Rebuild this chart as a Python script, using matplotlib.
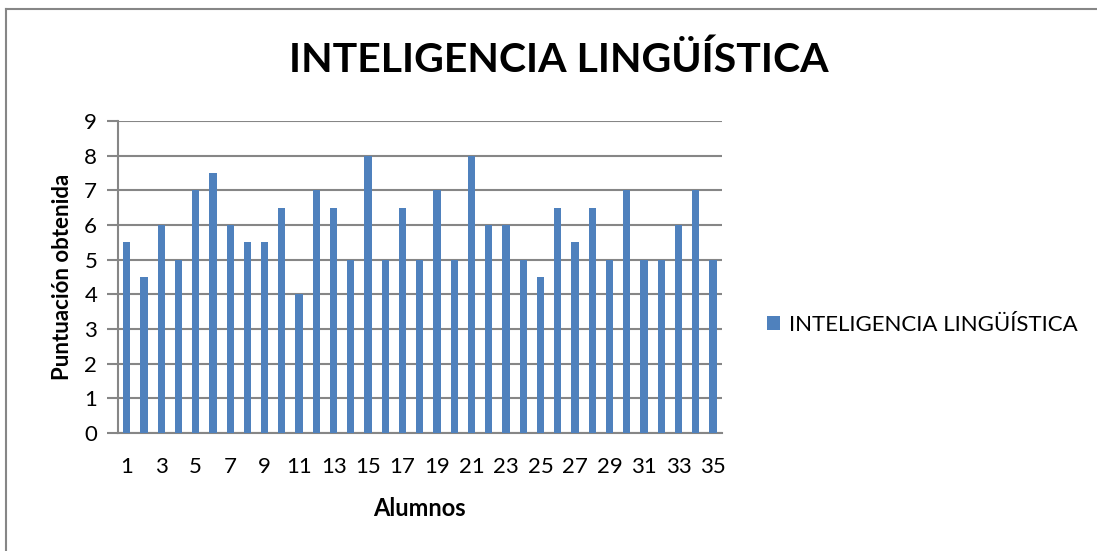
import matplotlib.pyplot as plt
from matplotlib.lines import Line2D
from matplotlib.patches import Patch

# === Data ===
alumnos = list(range(1, 36))
puntuacion = [5.5, 4.5, 6, 5, 7, 7.5, 6, 5.5, 5.5, 6.5,
              4, 7, 6.5, 5, 8, 5, 6.5, 5, 7, 5,
              8, 6, 6, 5, 4.5, 6.5, 5.5, 6.5, 5, 7,
              5, 5, 6, 7, 5]
serie = "INTELIGENCIA LINGÜÍSTICA"

plt.rcParams["font.family"] = ["Lato", "DejaVu Sans"]
bar_color = "#4F81BD"
grid_color = "#868686"

fig = plt.figure(figsize=(10.97, 5.51), dpi=100)
ax = fig.add_axes([0.1076, 0.2142, 0.5502, 0.5662])

x = list(range(len(alumnos)))
ax.bar(x, puntuacion, width=0.42, color=bar_color, zorder=3)

ax.set_xlim(-0.5, len(alumnos) - 0.5)
ax.set_ylim(0, 9)
ax.set_yticks(range(0, 10))
ax.set_xticks(x[::2])
ax.set_xticklabels([str(a) for a in alumnos[::2]])
ax.tick_params(axis="x", length=0, labelsize=16, pad=17)
ax.tick_params(axis="y", length=8, width=1.5, color=grid_color, labelsize=16, pad=7)
ax.yaxis.grid(True, color=grid_color, linewidth=1.5, zorder=0)

for side in ["top", "right"]:
    ax.spines[side].set_visible(False)
for side in ["left", "bottom"]:
    ax.spines[side].set_color(grid_color)
    ax.spines[side].set_linewidth(1.5)

ax.set_xlabel("Alumnos", fontsize=17, fontweight="bold", labelpad=15)
ax.set_ylabel("Puntuación obtenida", fontsize=16, fontweight="bold", labelpad=8)

fig.text(0.509, 0.89, serie, ha="center", va="center", fontsize=29.5, fontweight="bold")

# legend
handle = Patch(facecolor=bar_color, edgecolor="none")
fig.legend([handle], [serie], loc="center left", bbox_to_anchor=(0.681, 0.41),
           frameon=False, fontsize=16, handlelength=0.6, handleheight=0.6,
           handletextpad=0.4)

# chart border (only top and left edges are visible in the picture)
x0 = 6 / 1097
y0 = 1 - 9 / 551
fig.add_artist(Line2D([x0, 1], [y0, y0], transform=fig.transFigure,
                      color=grid_color, linewidth=1.5))
fig.add_artist(Line2D([x0, x0], [0, y0], transform=fig.transFigure,
                      color=grid_color, linewidth=1.5))

fig.savefig("out.png", dpi=100)
